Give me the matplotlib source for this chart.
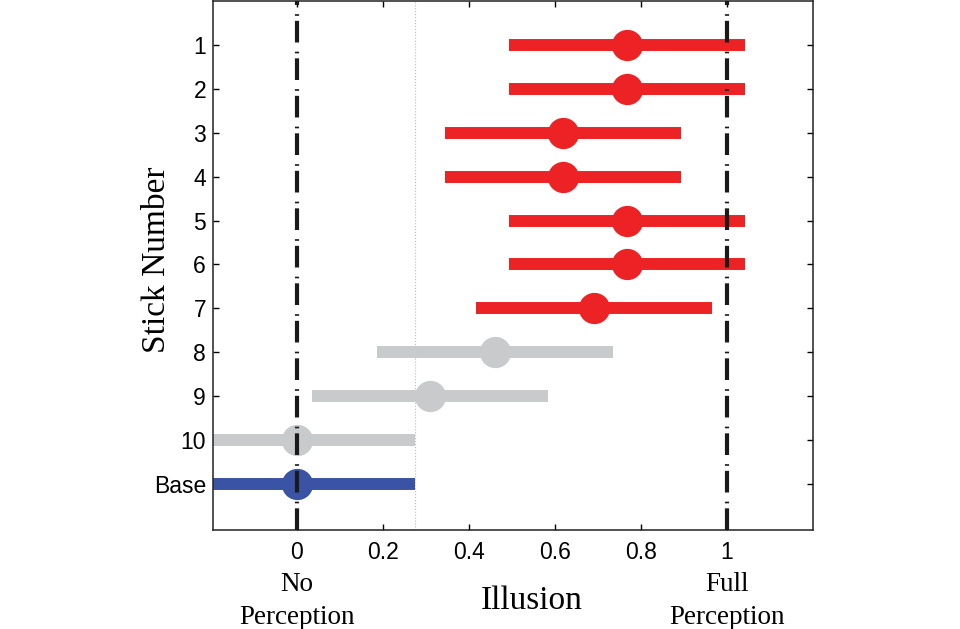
import matplotlib.pyplot as plt

sticks = ['1', '2', '3', '4', '5', '6', '7', '8', '9', '10', 'Base']
means = [0.767, 0.767, 0.619, 0.619, 0.767, 0.767, 0.691, 0.460, 0.309, 0.0, 0.0]
errors = [0.274] * 11
colors = ['#ED2224'] * 7 + ['#C9CACB'] * 3 + ['#3A53A4']

fig = plt.figure(figsize=(9.6, 6.29), dpi=100)
ax = fig.add_axes([0.2219, 0.1574, 0.625, 0.8410])

for i, (m, e, c) in enumerate(zip(means, errors, colors)):
    ax.errorbar(m, i + 1, xerr=e, fmt='o', color=c, ecolor=c,
                elinewidth=8.6, markersize=21.5, capsize=0, zorder=2)

# reference lines
ax.axvline(0, color='#1a1a1a', lw=3, linestyle=(0, (5.2, 1.2, 0.4, 2.2)), zorder=3)
ax.axvline(1, color='#1a1a1a', lw=3, linestyle=(0, (5.2, 1.2, 0.4, 2.2)), zorder=3)
ax.axvline(0.274, color='#bbbbbb', lw=0.8, linestyle=':', zorder=1)

ax.set_xlim(-0.195, 1.2)
ax.set_ylim(12.05, 0)
ax.set_yticks(range(1, 12))
ax.set_yticklabels(sticks, fontsize=16.5, family='Liberation Sans')
ax.set_xticks([0, 0.2, 0.4, 0.6, 0.8, 1])
ax.set_xticklabels(['0', '0.2', '0.4', '0.6', '0.8', '1'], fontsize=16.5, family='Liberation Sans')
ax.tick_params(direction='in', length=4, width=1, top=True, right=True)
ax.tick_params(axis='y', pad=5)
ax.tick_params(axis='x', pad=8)
for s in ax.spines.values():
    s.set_linewidth(1.1)
    s.set_color('#222222')

ax.set_ylabel('Stick Number', fontsize=24, family='Liberation Serif', va='center')
ax.yaxis.set_label_coords(-0.093, 0.51)

trans = ax.get_xaxis_transform()
ax.text(0, -0.08, 'No\nPerception', transform=trans, ha='center', va='top',
        fontsize=19.5, family='Liberation Serif', linespacing=1.4)
ax.text(1, -0.08, 'Full\nPerception', transform=trans, ha='center', va='top',
        fontsize=19.5, family='Liberation Serif', linespacing=1.4)
ax.text(0.547, -0.105, 'Illusion', transform=trans, ha='center', va='top',
        fontsize=24, family='Liberation Serif')

fig.savefig('out.png', dpi=100)
